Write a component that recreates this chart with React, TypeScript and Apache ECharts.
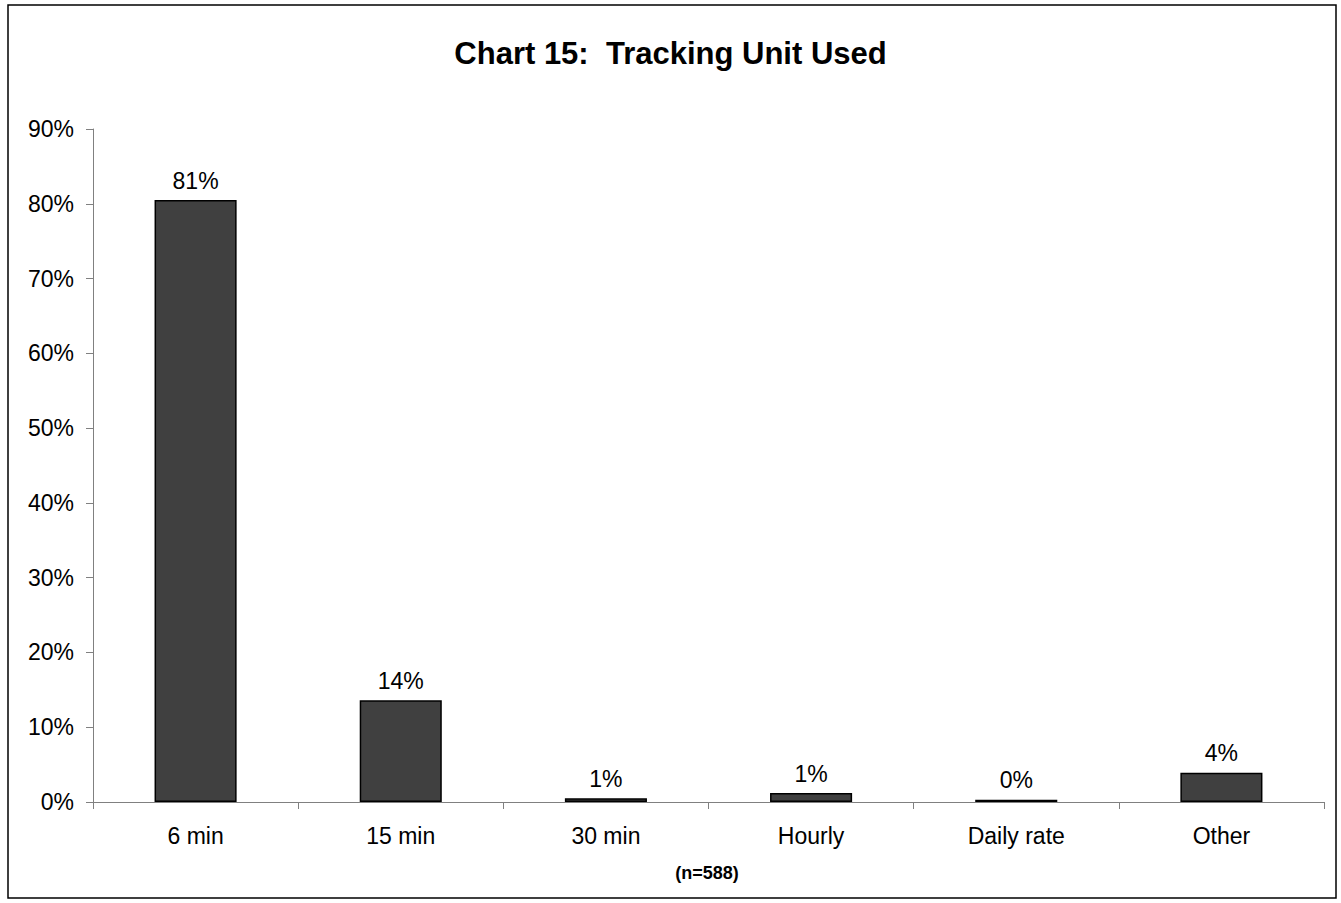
import React, { useEffect, useRef } from "react";
import * as echarts from "echarts";

const categories = ["6 min", "15 min", "30 min", "Hourly", "Daily rate", "Other"];
const values = [80.5, 13.6, 0.5, 1.2, 0.3, 3.9];
const yTicks = [0, 10, 20, 30, 40, 50, 60, 70, 80, 90];
const titleText = "Chart 15:  Tracking Unit Used";
const noteText = "(n=588)";

export default function App() {
  const ref = useRef<HTMLDivElement>(null);
  useEffect(() => {
    if (!ref.current) return;
    const chart = echarts.init(ref.current, undefined, { renderer: "svg" });
    const font = "'Liberation Sans', Arial, sans-serif";
    chart.setOption({
      animation: false,
      backgroundColor: "#ffffff",
      title: {
        text: titleText,
        left: "center",
        top: 33,
        textStyle: { fontFamily: font, fontSize: 31, fontWeight: "bold", color: "#000" },
      },
      grid: { left: 93, right: 17, top: 129, bottom: 101, containLabel: false },
      xAxis: {
        type: "category",
        data: categories,
        axisLine: { lineStyle: { color: "#808080", width: 1 } },
        axisTick: { show: true, length: 7, alignWithLabel: false, lineStyle: { color: "#808080" } },
        axisLabel: { fontFamily: font, fontSize: 23, color: "#000", margin: 22 },
        splitLine: { show: false },
      },
      yAxis: {
        type: "value",
        min: yTicks[0],
        max: yTicks[yTicks.length - 1],
        interval: 10,
        axisLine: { show: true, lineStyle: { color: "#808080", width: 1 } },
        axisTick: { show: true, length: 7, lineStyle: { color: "#808080" } },
        axisLabel: { fontFamily: font, fontSize: 23, color: "#000", margin: 19, formatter: (v: number) => `${v}%` },
        splitLine: { show: false },
      },
      series: [
        {
          type: "bar",
          data: values,
          barWidth: "40%",
          itemStyle: { color: "#404040", borderColor: "#000", borderWidth: 1.5 },
          label: {
            show: true,
            position: "top",
            distance: 8,
            fontFamily: font,
            fontSize: 23,
            color: "#000",
            formatter: (p: any) => `${Math.round(p.value)}%`,
          },
        },
      ],
      graphic: [
        {
          type: "rect",
          shape: { x: 8, y: 5, width: 1328, height: 893 },
          style: { fill: "none", stroke: "#000", lineWidth: 1.5 },
          silent: true,
        },
        {
          type: "text",
          x: 707,
          y: 873,
          style: {
            text: noteText,
            font: `bold 18px ${font}`,
            fill: "#000",
            align: "center",
            verticalAlign: "middle",
          },
        },
      ],
    });
    return () => chart.dispose();
  }, []);
  return <div ref={ref} style={{ position: "absolute", left: 0, top: 0, width: 1341, height: 903 }} />;
}
